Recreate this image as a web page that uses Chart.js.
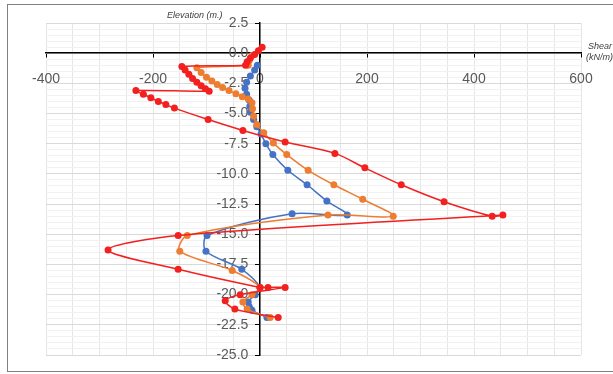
<!DOCTYPE html>
<html>
<head>
<meta charset="utf-8">
<script src="https://cdn.jsdelivr.net/npm/chart.js@4"></script>
<style>
  body { margin: 0; background: #fff; }
  #wrap { position: relative; width: 613px; height: 374px; }
  #frame { position: absolute; left: 7px; top: 4px; width: 620px; height: 366px; border: 1.5px solid #808080; pointer-events: none; }
</style>
</head>
<body>
<div id="wrap">
  <canvas id="shearChart" width="613" height="374"></canvas>
  <div id="frame"></div>
</div>
<script>
// shear (kN/m) vs elevation (m.) for three cases
const blueShear = [-5, -10, -18, -25, -28, -25, -20, -19, -18, -12, -6, 2, 11, 24, 52, 88, 125, 163, 60, -99, -101, -34, 0, -9, -22, -20, -15, 13];
const blueElev  = [-1.0, -1.4, -1.9, -2.4, -2.9, -3.4, -3.9, -4.4, -4.9, -5.5, -6.1, -6.7, -7.5, -8.4, -9.7, -10.9, -12.25, -13.4, -13.3, -15.1, -16.4, -17.9, -19.4, -20.0, -20.6, -21.0, -21.3, -21.9];

const orangeShear = [-15, -20, -22, -118, -110, -100, -90, -80, -70, -58, -45, -33, -22, -15, -14, -12, -6, 7, 25, 50, 90, 138, 192, 249, 127, -136, -150, -52, 0, -15, -32, -24, 19];
const orangeElev  = [-0.2, -0.6, -1.0, -1.2, -1.6, -2.0, -2.3, -2.6, -2.85, -3.1, -3.35, -3.6, -3.8, -4.1, -4.6, -5.2, -5.9, -6.6, -7.45, -8.4, -9.7, -10.9, -12.1, -13.5, -13.4, -15.1, -16.4, -18.0, -19.4, -20.0, -20.6, -21.2, -21.9];

const redShear = [4, -3, -10, -18, -24, -27, -146, -140, -133, -126, -118, -110, -102, -95, -232, -218, -204, -190, -176, -160, -97, -32, 47, 140, 196, 264, 344, 434, 454, -153, -284, -153, 0, 15, 47, -37, -65, -47, 34];
const redElev  = [0.5, 0.2, -0.1, -0.4, -0.7, -1.0, -1.1, -1.4, -1.75, -2.1, -2.4, -2.7, -2.95, -3.15, -3.1, -3.4, -3.7, -4.0, -4.25, -4.55, -5.5, -6.4, -7.35, -8.3, -9.5, -10.9, -12.3, -13.5, -13.4, -15.1, -16.3, -17.9, -19.4, -19.4, -19.4, -20.0, -20.5, -21.2, -21.9];

function toPoints(xs, ys) {
    return xs.map((x, i) => ({ x: x, y: ys[i] }));
}

function isMajor(v, step) {
    const r = v / step;
    return Math.abs(r - Math.round(r)) < 1e-6;
}

const axisTitles = {
    id: "axisTitles",
    afterDraw(chart) {
        const c = chart.ctx;
        c.save();
        c.fillStyle = "#404040";
        c.font = "italic 9px 'Liberation Sans'";
        c.fillText("Elevation (m.)", 167, 18);
        c.fillText("Shear", 588, 49);
        c.fillText("(kN/m)", 586, 60);
        c.restore();
    }
};

const makeSet = (label, xs, ys, color) => ({
    label,
    data: toPoints(xs, ys),
    showLine: true,
    borderColor: color,
    backgroundColor: color,
    borderWidth: 1.5,
    pointRadius: 3.5,
    pointBorderWidth: 0,
    tension: 0.3
});

new Chart(document.getElementById("shearChart"), {
    type: "scatter",
    data: {
        datasets: [
            makeSet("Red", redShear, redElev, "#f2201f"),
            makeSet("Orange", orangeShear, orangeElev, "#ed7d31"),
            makeSet("Blue", blueShear, blueElev, "#4472c4")
        ]
    },
    options: {
        responsive: false,
        animation: false,
        layout: {
            padding: { left: 46, right: 32, top: 23, bottom: 19 }
        },
        plugins: {
            legend: { display: false },
            tooltip: { enabled: false }
        },
        scales: {
            x: {
                type: "linear",
                position: { y: 0 },
                min: -400,
                max: 600,
                ticks: {
                    stepSize: 50,
                    autoSkip: false,
                    maxRotation: 0,
                    padding: 14,
                    color: "#595959",
                    font: { family: "'Liberation Sans'", size: 14 },
                    callback: v => isMajor(v, 200) ? v : ""
                },
                grid: {
                    color: "#e6e6e6",
                    tickLength: 4,
                    tickColor: ctx => ctx.tick && isMajor(ctx.tick.value, 200) ? "#000" : "rgba(0,0,0,0)"
                },
                border: { color: "#000", width: 1.5 }
            },
            y: {
                type: "linear",
                position: { x: 0 },
                min: -25,
                max: 2.5,
                ticks: {
                    stepSize: 0.5,
                    autoSkip: false,
                    color: "#595959",
                    font: { family: "'Liberation Sans'", size: 14 },
                    // labels sit right-aligned on the axis line, so pad with spaces
                    callback: v => isMajor(v, 2.5) ? v.toFixed(1) + "   " : ""
                },
                grid: {
                    color: ctx => ctx.tick && isMajor(ctx.tick.value, 2.5) ? "#d9d9d9" : "#f1f1f1",
                    tickLength: 4,
                    tickColor: ctx => ctx.tick && isMajor(ctx.tick.value, 2.5) ? "#000" : "rgba(0,0,0,0)"
                },
                border: { color: "#000", width: 1.5 }
            }
        }
    },
    plugins: [axisTitles]
});
</script>
</body>
</html>
